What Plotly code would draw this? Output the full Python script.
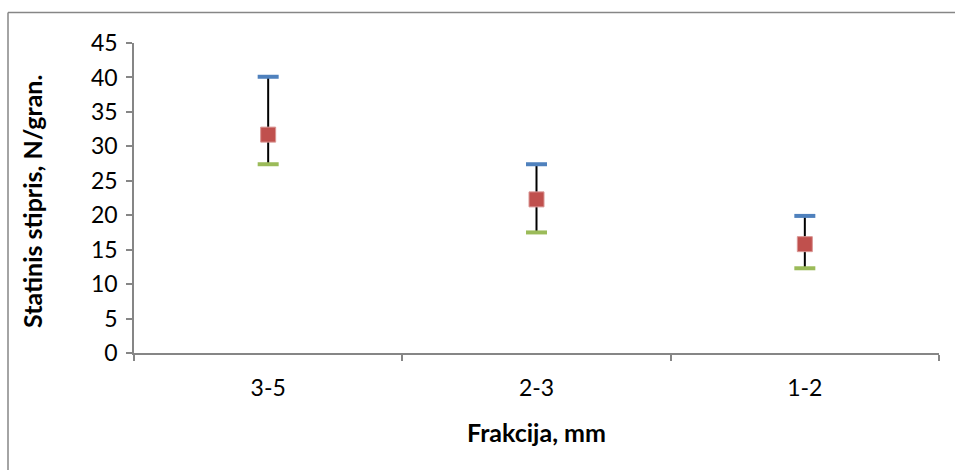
import plotly.graph_objects as go

# Fractions and their static strength statistics (N per granule)
fractions = ["3-5", "2-3", "1-2"]
high_vals = [40.1, 27.4, 19.9]
mean_vals = [31.7, 22.3, 15.8]
low_vals = [27.4, 17.5, 12.3]

y_ticks = [0, 5, 10, 15, 20, 25, 30, 35, 40, 45]

W, H = 955, 470
ML, MR, MT, MB = 134, 16, 43, 117

fig = go.Figure()

# vertical high-low bars
seg_x, seg_y = [], []
for f, lo, hi in zip(fractions, low_vals, high_vals):
    seg_x += [f, f, None]
    seg_y += [lo, hi, None]
fig.add_trace(go.Scatter(x=seg_x, y=seg_y, mode="lines",
                         line=dict(color="black", width=2),
                         hoverinfo="skip", showlegend=False))

# high ticks
fig.add_trace(go.Scatter(x=fractions, y=high_vals, mode="markers",
                         marker=dict(symbol="line-ew", size=15,
                                     line=dict(color="#4F81BD", width=4)),
                         showlegend=False))
# low ticks
fig.add_trace(go.Scatter(x=fractions, y=low_vals, mode="markers",
                         marker=dict(symbol="line-ew", size=15,
                                     line=dict(color="#9BBB59", width=4)),
                         showlegend=False))
# mean markers
fig.add_trace(go.Scatter(x=fractions, y=mean_vals, mode="markers",
                         marker=dict(symbol="square", size=15, color="#C0504D",
                                     line=dict(color="#D99694", width=1)),
                         showlegend=False))

font_family = "Lato, 'Open Sans', sans-serif"
axis_color = "#868686"
FS = 23
TS = 25

fig.update_layout(
    width=W, height=H,
    margin=dict(l=ML, r=MR, t=MT, b=MB, pad=0),
    paper_bgcolor="white", plot_bgcolor="white",
    font=dict(family=font_family, size=FS, color="black"),
    xaxis=dict(
        type="category", categoryorder="array", categoryarray=fractions,
        range=[-0.5, 2.5],
        showline=True, linecolor=axis_color, linewidth=1.5,
        ticks="outside", tickson="boundaries", ticklen=6,
        tickcolor=axis_color, tickwidth=1.5,
        showgrid=False, zeroline=False,
        tickfont=dict(size=FS), ticklabelstandoff=14,
    ),
    yaxis=dict(
        range=[0, 45], tickvals=y_ticks,
        showline=True, linecolor=axis_color, linewidth=1.5,
        ticks="outside", ticklen=6, tickcolor=axis_color, tickwidth=1.5,
        showgrid=False, zeroline=False,
        tickfont=dict(size=FS), ticklabelstandoff=4,
    ),
)

# axis titles
fig.add_annotation(text="<b>Frakcija, mm</b>", xref="paper", yref="paper",
                   x=0.5, y=-(432 - (H - MB)) / (H - MT - MB),
                   showarrow=False, font=dict(size=TS),
                   xanchor="center", yanchor="middle")
fig.add_annotation(text="<b>Statinis stipris, N/gran.</b>", xref="paper", yref="paper",
                   x=(32 - ML) / (W - ML - MR), y=(198 - 202) / (H - MT - MB) + 0.5,
                   textangle=-90,
                   showarrow=False, font=dict(size=TS),
                   xanchor="center", yanchor="middle")

# outer chart frame (top and left edges)
pw = W - ML - MR
ph = H - MT - MB
def px_x(p):
    return (p - ML) / pw
def px_y(p):
    return (H - MB - p) / ph

fig.add_shape(type="line", xref="paper", yref="paper",
              x0=px_x(8), x1=px_x(956), y0=px_y(12.5), y1=px_y(12.5),
              line=dict(color=axis_color, width=1.5))
fig.add_shape(type="line", xref="paper", yref="paper",
              x0=px_x(8), x1=px_x(8), y0=px_y(12.5), y1=px_y(471),
              line=dict(color=axis_color, width=1.5))

fig.write_html("out.html")
